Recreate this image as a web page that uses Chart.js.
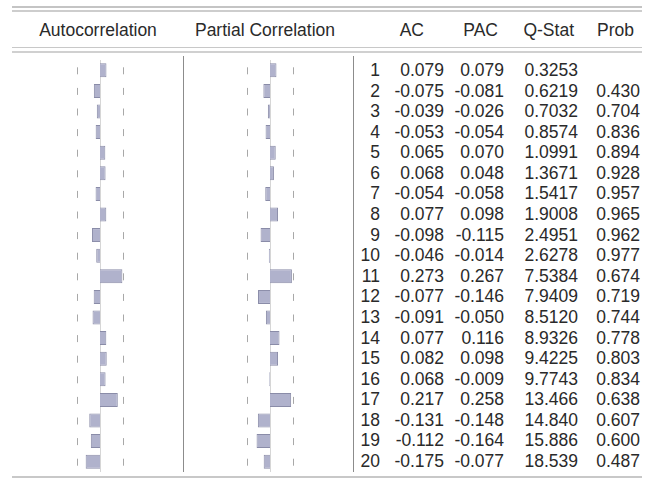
<!DOCTYPE html>
<html>
<head>
<meta charset="utf-8">
<script src="https://cdn.jsdelivr.net/npm/chart.js@4/dist/chart.umd.min.js"></script>
<style>
    body { margin: 0; background: #fff; width: 650px; height: 479px; overflow: hidden; }
    #page { position: relative; width: 650px; height: 479px; font-family: "Liberation Sans", Arial, sans-serif; color: #2a2a2a; }
    .rule { position: absolute; }
    .txt { position: absolute; white-space: nowrap; font-size: 17.5px; line-height: 20.58px; }
    canvas { position: absolute; }
</style>
</head>
<body>
<div id="page">
    <canvas id="chartAC" width="164" height="412" style="left:18px;top:60px;"></canvas>
    <canvas id="chartPAC" width="164" height="412" style="left:188px;top:60px;"></canvas>
</div>
<script>
var lags = [1, 2, 3, 4, 5, 6, 7, 8, 9, 10, 11, 12, 13, 14, 15, 16, 17, 18, 19, 20];
var acValues = [0.079, -0.075, -0.039, -0.053, 0.065, 0.068, -0.054, 0.077, -0.098, -0.046,
    0.273, -0.077, -0.091, 0.077, 0.082, 0.068, 0.217, -0.131, -0.112, -0.175];
var pacValues = [0.079, -0.081, -0.026, -0.054, 0.070, 0.048, -0.058, 0.098, -0.115, -0.014,
    0.267, -0.146, -0.050, 0.116, 0.098, -0.009, 0.258, -0.148, -0.164, -0.077];
var qStats = [0.3253, 0.6219, 0.7032, 0.8574, 1.0991, 1.3671, 1.5417, 1.9008, 2.4951, 2.6278,
    7.5384, 7.9409, 8.5120, 8.9326, 9.4225, 9.7743, 13.466, 14.840, 15.886, 18.539];
var probs = [null, 0.430, 0.704, 0.836, 0.894, 0.928, 0.957, 0.965, 0.962, 0.977,
    0.674, 0.719, 0.744, 0.778, 0.803, 0.834, 0.638, 0.607, 0.600, 0.487];
var headers = ["Autocorrelation", "Partial Correlation", "AC", "PAC", "Q-Stat", "Prob"];
var nObs = 49; // confidence band is +/- 2/sqrt(n)

var rowTop = 60;
var rowHeight = 20.58;

function addRule(left, top, width, height, color) {
    var d = document.createElement("div");
    d.className = "rule";
    d.style.left = left + "px";
    d.style.top = top + "px";
    d.style.width = width + "px";
    d.style.height = height + "px";
    d.style.background = color;
    document.getElementById("page").appendChild(d);
}

function addText(text, top, right, center) {
    var d = document.createElement("div");
    d.className = "txt";
    d.textContent = text;
    d.style.top = top + "px";
    if (center) {
        d.style.left = (center - 100) + "px";
        d.style.width = "200px";
        d.style.textAlign = "center";
    } else {
        d.style.right = (650 - right) + "px";
        d.style.textAlign = "right";
    }
    document.getElementById("page").appendChild(d);
}

function formatQ(q) {
    return q < 10 ? q.toFixed(4) : q.toFixed(3);
}

function buildTable() {
    // frame lines
    addRule(12, 6, 630, 2, "#c4c4c4");
    addRule(12, 10, 630, 2, "#cdcdcd");
    addRule(12, 47, 630, 1, "#c8c8c8");
    addRule(12, 51, 630, 2, "#d0d0d0");
    addRule(12, 476, 630, 2, "#c8c8c8");
    addRule(183, 56, 1, 416, "#8c8c8c");
    addRule(353, 56, 1, 416, "#8c8c8c");

    addText(headers[0], 20, null, 98);
    addText(headers[1], 20, null, 265);
    addText(headers[2], 20, 424);
    addText(headers[3], 20, 498);
    addText(headers[4], 20, 574);
    addText(headers[5], 20, 634);

    for (var i = 0; i < lags.length; i++) {
        var top = rowTop + i * rowHeight;
        addText(String(lags[i]), top, 380);
        addText(acValues[i].toFixed(3), top, 444);
        addText(pacValues[i].toFixed(3), top, 504);
        addText(formatQ(qStats[i]), top, 578);
        if (probs[i] !== null) {
            addText(probs[i].toFixed(3), top, 640);
        }
    }
}

var bandPlugin = {
    id: "band",
    beforeDatasetsDraw: function (chart) {
        var ctx = chart.ctx;
        var xs = chart.scales.x;
        var ys = chart.scales.y;
        var band = 2 / Math.sqrt(nObs);
        ctx.save();
        ctx.lineWidth = 1;

        // zero line
        ctx.strokeStyle = "#d6d6d6";
        var x0 = Math.round(xs.getPixelForValue(0)) + 0.5;
        ctx.beginPath();
        ctx.moveTo(x0, 0);
        ctx.lineTo(x0, chart.height);
        ctx.stroke();

        // dotted confidence limits, one dash per lag
        ctx.strokeStyle = "#a8a8a8";
        for (var i = 0; i < lags.length; i++) {
            var yc = ys.getPixelForValue(i);
            [-band, band].forEach(function (v) {
                var px = Math.round(xs.getPixelForValue(v)) + 0.5;
                ctx.beginPath();
                ctx.moveTo(px, yc - 3);
                ctx.lineTo(px, yc + 4);
                ctx.stroke();
            });
        }
        ctx.restore();
    }
};

function drawCorrChart(chartId, values) {
    var ctx = document.getElementById(chartId);
    return new Chart(ctx, {
        type: "bar",
        data: {
            labels: lags,
            datasets: [{
                data: values,
                backgroundColor: "#b0b2cc",
                borderColor: "#8a8ca8",
                borderWidth: 1,
                barPercentage: 0.68,
                categoryPercentage: 1
            }]
        },
        options: {
            indexAxis: "y",
            responsive: false,
            animation: false,
            devicePixelRatio: 1,
            layout: { padding: 0 },
            plugins: {
                legend: { display: false },
                tooltip: { enabled: false }
            },
            scales: {
                x: { display: false, min: -1, max: 1 },
                y: { display: false }
            }
        },
        plugins: [bandPlugin]
    });
}

buildTable();
drawCorrChart("chartAC", acValues);
drawCorrChart("chartPAC", pacValues);
</script>
</body>
</html>
